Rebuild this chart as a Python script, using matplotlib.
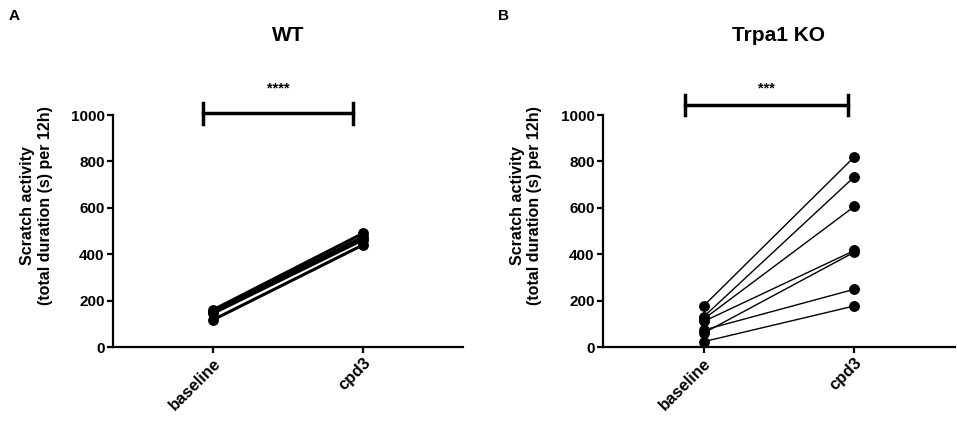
import numpy as np
import matplotlib.pyplot as plt

plt.rcParams['font.family'] = ['Liberation Sans', 'DejaVu Sans']
plt.rcParams['font.weight'] = 'bold'

# data (s per 12h), one pair per animal
groups = ['baseline', 'cpd3']
wt_base = [160, 150, 145, 117]
wt_cpd3 = [490, 475, 462, 440]
ko_base = [177, 130, 120, 110, 60, 73, 23]
ko_cpd3 = [820, 734, 606, 416, 409, 249, 177]

fig = plt.figure(figsize=(9.57, 4.25), dpi=100)
axA = fig.add_axes([0.1181, 0.1835, 0.3657, 0.5459])
axB = fig.add_axes([0.6301, 0.1835, 0.3678, 0.5459])


def panel(ax, base, cpd, lw, title, stars, br):
    x = np.arange(len(groups))
    for b, c in zip(base, cpd):
        ax.plot(x, [b, c], '-o', color='black', lw=lw, ms=6.8, clip_on=False)
    ax.set_xlim(-0.667, 1.667)
    ax.set_ylim(0, 1000)
    ax.set_yticks(np.arange(0, 1001, 200))
    ax.set_xticks(x)
    ax.set_xticklabels(groups, rotation=45, ha='right', rotation_mode='anchor',
                       fontsize=12, fontweight='bold')
    for t in ax.get_yticklabels():
        t.set_fontsize(11)
        t.set_fontweight('bold')
    ax.spines['top'].set_visible(False)
    ax.spines['right'].set_visible(False)
    for s in ('left', 'bottom'):
        ax.spines[s].set_linewidth(1.6)
    ax.tick_params(width=1.6, length=4, pad=2)
    ax.set_ylabel('Scratch activity\n(total duration (s) per 12h)', fontsize=11.5,
                  fontweight='bold', linespacing=1.2)
    ax.yaxis.set_label_coords(-0.172, 0.61)
    # significance bracket
    x0, x1, yb = br
    ax.plot([x0, x1], [yb, yb], color='black', lw=2.5, clip_on=False)
    for xe in (x0, x1):
        ax.plot([xe, xe], [yb - 45, yb + 45], color='black', lw=2.5, clip_on=False)
    ax.text((x0 + x1) / 2, 1116, stars, ha='center', va='center', fontsize=10.5,
            fontweight='bold')
    ax.set_title(title, fontsize=15, fontweight='bold', pad=0, y=1.32)


panel(axA, wt_base, wt_cpd3, 2.2, 'WT', '****', (-0.067, 0.933, 1008))
panel(axB, ko_base, ko_cpd3, 1.0, 'Trpa1 KO', '***', (-0.12, 0.96, 1043))

fig.text(0.009, 0.963, 'A', fontsize=11, fontweight='bold', va='center')
fig.text(0.520, 0.963, 'B', fontsize=11, fontweight='bold', va='center')

fig.savefig('out.png', dpi=100)
